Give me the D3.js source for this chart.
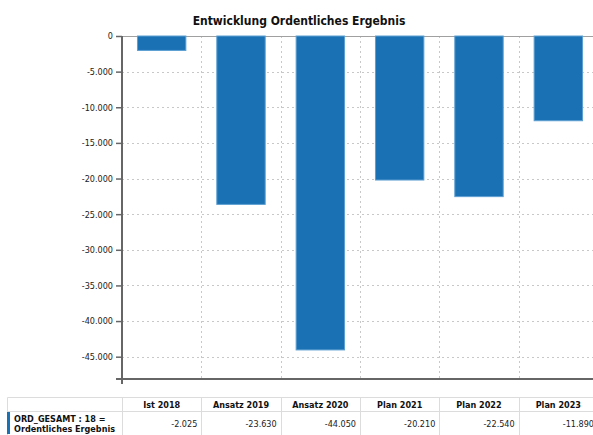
<!DOCTYPE html>
<html><head><meta charset="utf-8">
<script src="https://cdn.jsdelivr.net/npm/d3@7"></script>
<style>
html,body{margin:0;padding:0;background:#fff;overflow:hidden}
text{font-family:"DejaVu Sans Condensed","DejaVu Sans",sans-serif}
</style></head>
<body>
<script>
const categories = ["Ist 2018","Ansatz 2019","Ansatz 2020","Plan 2021","Plan 2022","Plan 2023"];
const values = [-2025,-23630,-44050,-20210,-22540,-11890];
const yTicks = [0,-5000,-10000,-15000,-20000,-25000,-30000,-35000,-40000,-45000];
const title = "Entwicklung Ordentliches Ergebnis";
const rowLabel = ["ORD_GESAMT : 18 =","Ordentliches Ergebnis"];

(function(){
const W=593,H=435;
const de = d3.formatLocale({decimal:",",thousands:".",grouping:[3],currency:["","€"],minus:"-"});
const fmt = de.format(",d");

const svg = d3.select("body").append("svg").attr("width",W).attr("height",H);
const pL=122,pR=598,pT=36,pB=379;
const x = d3.scaleBand().domain(categories).range([pL,pR]).paddingInner(0.39).paddingOuter(0.195);
const y = d3.scaleLinear().domain([-48130,0]).range([pB,pT]);

// title
svg.append("text").attr("x",299).attr("y",25).attr("text-anchor","middle")
  .attr("font-weight","bold").attr("font-size",12).attr("fill","#111").text(title);

// horizontal grid
svg.append("g").selectAll("line").data(yTicks.filter(d=>d!==0)).join("line")
  .attr("x1",pL).attr("x2",pR).attr("y1",d=>Math.round(y(d))+0.5).attr("y2",d=>Math.round(y(d))+0.5)
  .attr("stroke","#c8c8c8").attr("stroke-dasharray","2,3");
// vertical grid at band boundaries
const bounds = categories.slice(0,-1).map(c=>x(c)+x.bandwidth()/2+x.step()/2);
svg.append("g").selectAll("line").data(bounds).join("line")
  .attr("x1",d=>Math.round(d)+0.5).attr("x2",d=>Math.round(d)+0.5).attr("y1",pT).attr("y2",pB)
  .attr("stroke","#c8c8c8").attr("stroke-dasharray","2,3");
// top line
svg.append("line").attr("x1",pL).attr("x2",pR).attr("y1",pT+0.5).attr("y2",pT+0.5)
  .attr("stroke","#a0a0a0");

// bars
svg.append("g").selectAll("rect").data(values).join("rect")
  .attr("x",(d,i)=>x(categories[i])).attr("width",x.bandwidth())
  .attr("y",d=>y(0)).attr("height",d=>y(d)-y(0))
  .attr("fill","#1a71b4").attr("stroke","#5d9fd2").attr("stroke-width",1);

// y axis
const yAxis = d3.axisLeft(y).tickValues(yTicks).tickFormat(fmt).tickSize(6).tickPadding(3);
const ga = svg.append("g").attr("transform",`translate(${pL},0)`).call(yAxis);
ga.select(".domain").remove();
ga.selectAll(".tick line").attr("stroke","#666").attr("stroke-width",1.5);
ga.selectAll(".tick text").attr("font-size",9).attr("fill","#222")
  .attr("font-family",'"DejaVu Sans Condensed","DejaVu Sans",sans-serif');
svg.append("line").attr("x1",pL).attr("x2",pL).attr("y1",pT).attr("y2",pB+5)
  .attr("stroke","#666").attr("stroke-width",2);
svg.append("line").attr("x1",pL-6).attr("x2",pR).attr("y1",pB).attr("y2",pB)
  .attr("stroke","#666").attr("stroke-width",2);

// table
const tTop=397.5, tMid=411.5, tBot=436, tLeft=7.5;
const tg = svg.append("g");
const colEdges = [pL].concat(bounds).concat([pR]);
tg.append("line").attr("x1",tLeft).attr("x2",W).attr("y1",tTop).attr("y2",tTop).attr("stroke","#dcdcdc");
tg.append("line").attr("x1",tLeft).attr("x2",W).attr("y1",tMid).attr("y2",tMid).attr("stroke","#dcdcdc");
tg.append("line").attr("x1",tLeft).attr("x2",tLeft).attr("y1",tTop).attr("y2",tBot).attr("stroke","#dcdcdc");
tg.selectAll("line.col").data(colEdges).join("line").attr("class","col")
  .attr("x1",d=>Math.round(d)+0.5).attr("x2",d=>Math.round(d)+0.5).attr("y1",tTop).attr("y2",tBot).attr("stroke","#dcdcdc");
tg.append("rect").attr("x",7).attr("y",412).attr("width",3).attr("height",22).attr("fill","#1a71b4");
tg.selectAll("text.h").data(categories).join("text").attr("class","h")
  .attr("x",d=>x(d)+x.bandwidth()/2).attr("y",408).attr("text-anchor","middle")
  .attr("font-weight","bold").attr("font-size",9).attr("fill","#111").text(d=>d);
tg.selectAll("text.v").data(values).join("text").attr("class","v")
  .attr("x",(d,i)=>colEdges[i+1]-4).attr("y",427).attr("text-anchor","end")
  .attr("font-size",9).attr("fill","#222").text(d=>fmt(d));
tg.selectAll("text.r").data(rowLabel).join("text").attr("class","r")
  .attr("x",14).attr("y",(d,i)=>422+i*10).attr("font-weight","bold").attr("font-size",9).attr("fill","#111").text(d=>d);
})();
</script>
</body></html>
